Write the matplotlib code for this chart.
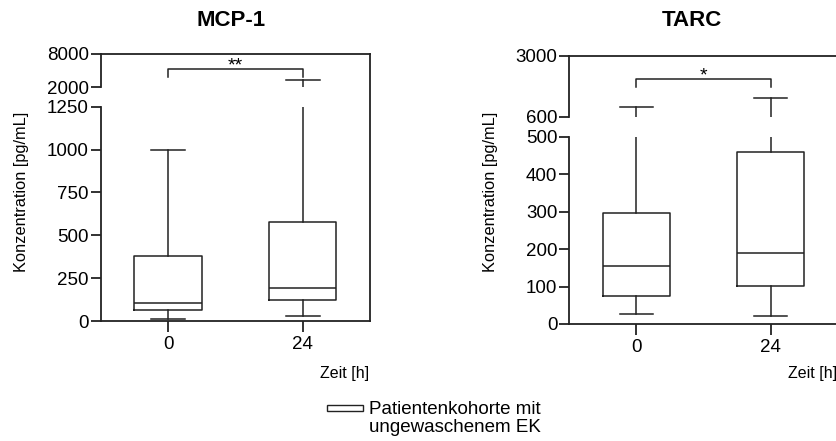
import matplotlib
matplotlib.use("Agg")
import matplotlib.pyplot as plt
from matplotlib.patches import Rectangle

plt.rcParams['font.family'] = ['Liberation Sans', 'DejaVu Sans']

# data (pg/mL)
groups = ["0", "24"]

mcp1_whislo = [13, 31]
mcp1_q1 = [62, 123]
mcp1_med = [107, 193]
mcp1_q3 = [380, 580]
mcp1_whishi = [1000, 3250]

tarc_whislo = [28, 21]
tarc_q1 = [75, 101]
tarc_med = [156, 189]
tarc_q3 = [295, 459]
tarc_whishi = [990, 1345]

mcp1_lower_ticks = [0, 250, 500, 750, 1000, 1250]
mcp1_upper_ticks = [2000, 8000]
tarc_lower_ticks = [0, 100, 200, 300, 400, 500]
tarc_upper_ticks = [600, 3000]

legend_label = "Patientenkohorte mit\nungewaschenem EK"

W, H = 837, 441
LC = "#222222"
LW = 1.1
SW = 1.3
TICK_FS = 13.5

fig = plt.figure(figsize=(W / 100, H / 100), dpi=100)


def px_axes(x0, y0, x1, y1):
    # pixel box (top-left origin) -> figure axes
    return fig.add_axes([x0 / W, 1 - y1 / H, (x1 - x0) / W, (y1 - y0) / H])


def make_stats(lo, q1, med, q3, hi):
    return [dict(whislo=a, q1=b, med=c, q3=d, whishi=e)
            for a, b, c, d, e in zip(lo, q1, med, q3, hi)]


def draw_panel(left, right, top, brk_top, brk_bot, bottom,
               upper_ticks, lower_ticks, stats, title, title_x, stars,
               bracket_y, tip_y):
    # frame (top + right line, continuous across the break)
    frame = px_axes(left, top, right, bottom)
    frame.set_xticks([])
    frame.set_yticks([])
    frame.patch.set_visible(False)
    for s in ["left", "bottom"]:
        frame.spines[s].set_visible(False)
    for s in ["top", "right"]:
        frame.spines[s].set_linewidth(SW)
        frame.spines[s].set_color(LC)

    ax_up = px_axes(left, top, right, brk_top)
    ax_lo = px_axes(left, brk_bot, right, bottom)

    props = dict(color=LC, linewidth=LW)
    for ax, ticks in [(ax_up, upper_ticks), (ax_lo, lower_ticks)]:
        ax.bxp(stats, positions=[0, 1], widths=0.5, capwidths=0.25,
               showfliers=False, manage_ticks=False,
               boxprops=props, whiskerprops=props, capprops=props,
               medianprops=props)
        ax.set_xlim(-0.5, 1.5)
        ax.set_ylim(ticks[0], ticks[-1])
        ax.set_yticks(ticks)
        ax.set_yticklabels([str(t) for t in ticks])
        ax.patch.set_visible(False)
        for s in ["top", "right", "bottom"]:
            ax.spines[s].set_visible(False)
        ax.spines["left"].set_linewidth(SW)
        ax.spines["left"].set_color(LC)
        ax.tick_params(axis="y", length=7, width=SW, color=LC,
                       labelsize=TICK_FS, pad=1.5)

    ax_up.set_xticks([])
    ax_lo.spines["bottom"].set_visible(True)
    ax_lo.spines["bottom"].set_linewidth(SW)
    ax_lo.spines["bottom"].set_color(LC)
    ax_lo.set_xticks([0, 1])
    ax_lo.set_xticklabels(groups)
    ax_lo.tick_params(axis="x", length=8, width=SW, color=LC,
                      labelsize=TICK_FS, pad=3)

    # significance bracket in the upper segment
    tr = ax_up.get_xaxis_transform()
    ax_up.plot([0, 0, 1, 1], [tip_y, bracket_y, bracket_y, tip_y],
               color=LC, lw=LW, transform=tr, clip_on=False)
    ax_up.annotate(stars, (0.5, bracket_y), xycoords=tr,
                   xytext=(0, -4), textcoords="offset points",
                   ha="center", va="bottom", fontsize=14, color="black")

    fig.text(title_x / W, 1 - 20 / H, title, ha="center",
             va="center", fontsize=16, fontweight="bold")
    fig.text((left - 79) / W, 1 - 192 / H, "Konzentration [pg/mL]",
             rotation=90, ha="center", va="center", fontsize=11.8)
    fig.text((right - 1) / W, 1 - 373.5 / H, "Zeit [h]", ha="right",
             va="center", fontsize=11.5)
    return ax_up, ax_lo


mcp1_stats = make_stats(mcp1_whislo, mcp1_q1, mcp1_med, mcp1_q3, mcp1_whishi)
tarc_stats = make_stats(tarc_whislo, tarc_q1, tarc_med, tarc_q3, tarc_whishi)

draw_panel(100.7, 370, 53.5, 87, 106.7, 321,
           mcp1_upper_ticks, mcp1_lower_ticks, mcp1_stats,
           "MCP-1", 231, "**", 0.53, 0.29)
draw_panel(569.3, 837.7, 55.5, 116.7, 136.7, 324,
           tarc_upper_ticks, tarc_lower_ticks, tarc_stats,
           "TARC", 692, "*", 0.616, 0.49)

# legend: open box swatch next to the first text line
fig.patches.append(Rectangle((327 / W, 1 - 411 / H), 36 / W, 6.5 / H,
                             transform=fig.transFigure, facecolor="white",
                             edgecolor=LC, linewidth=1.0))
fig.text(369 / W, 1 - 400.5 / H, legend_label, ha="left", va="top",
         fontsize=13.5, linespacing=1.1)

fig.savefig("out.png", dpi=100)
